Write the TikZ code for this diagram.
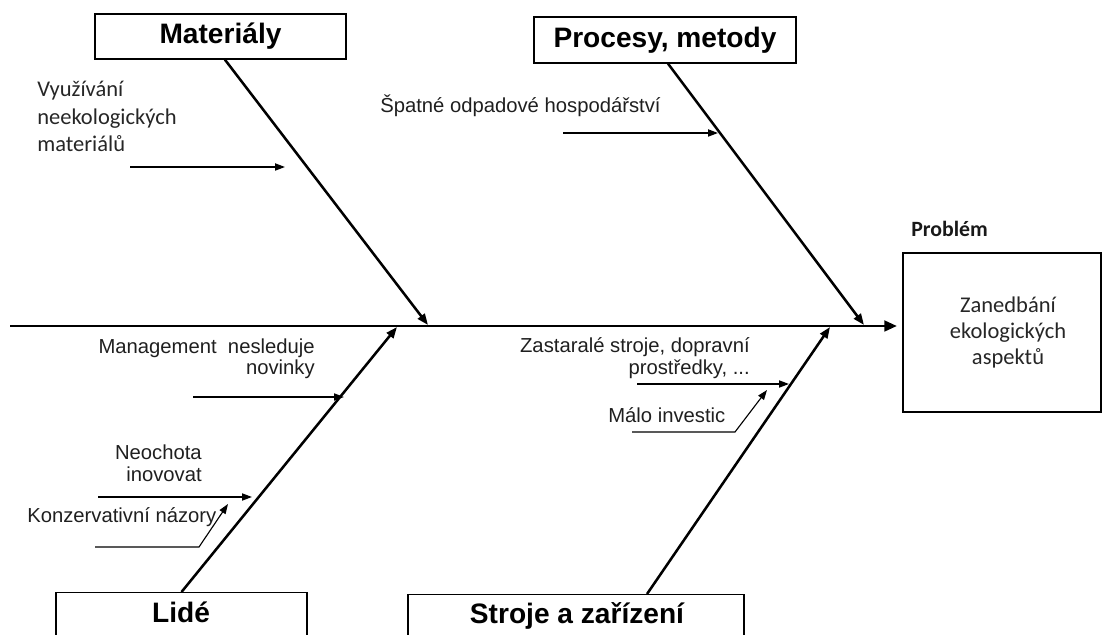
\documentclass[tikz,border=0pt]{standalone}
\usepackage{fontspec}
\setmainfont{Liberation Sans}
\newfontfamily\calibri{Carlito}
\usetikzlibrary{arrows.meta}
\begin{document}
\begin{tikzpicture}[x=0.025cm,y=-0.025cm,
  box/.style={draw, line width=0.9pt, inner sep=0pt},
  cat/.style={font=\fontsize{20}{24}\selectfont\bfseries, inner sep=0pt},
  cause/.style={font=\fontsize{14.4}{15.6}\selectfont, inner sep=0pt, text=black!88},
  note/.style={font=\calibri\fontsize{16}{19.6}\selectfont, inner sep=0pt, text=black!85},
  spine/.style={line width=2.1pt, -{Triangle[length=9pt,width=7.5pt]}},
  bone/.style={line width=1.8pt, -{Triangle[length=8pt,width=6pt]}},
  twig/.style={line width=1.1pt, -{Triangle[length=7pt,width=5pt]}},
  bent/.style={line width=0.8pt, -{Triangle[length=7pt,width=5pt]}},
]
\useasboundingbox (0,0) rectangle (1104,635);
\clip (0,0) rectangle (1104,635);

% category boxes
\node (mat)  [box, cat, minimum width=6.275cm, minimum height=1.125cm] at (220.5,36.5) {Materiály};
\node (proc) [box, cat, minimum width=6.55cm,  minimum height=1.15cm]  at (665,40) {Procesy, metody};
\node (lidebox) [box, minimum width=6.275cm, minimum height=1.7cm, anchor=north] at (181.5,592) {};
\node (lide) [cat, anchor=base] at (181,622) {Lidé};
\node (strbox) [box, minimum width=8.4cm, minimum height=1.7cm, anchor=north] at (576,594) {};
\node (str) [cat, anchor=base] at (577,623) {Stroje a zařízení};

% problem (effect)
\node (prob) [box, note, font=\calibri\fontsize{16}{18.5}\selectfont, align=center,
  minimum width=4.95cm, minimum height=3.975cm] at (1002,332.5)
  {\hspace*{0.3cm}Zanedbání\\\hspace*{0.3cm}ekologických\\\hspace*{0.3cm}aspektů};
\node (problab) [note, font=\calibri\bfseries\fontsize{15.5}{18}\selectfont, text=black!90, anchor=base west] at (911,237) {Problém};

% spine
\coordinate (tail) at (10,326);
\coordinate (head) at (897,326);
\draw[spine] (tail) -- (head);

% main bones
\coordinate (matj)  at (428,325);
\coordinate (procj) at (864,325);
\coordinate (lidej) at (397,327);
\coordinate (strj)  at (830,327);
\draw[bone] ([xshift=0.11cm]mat.south) -- (matj);
\draw[bone] ([xshift=0.075cm]proc.south) -- (procj);
\draw[bone] (lidebox.north) -- (lidej);
\draw[bone] ([xshift=1.775cm]strbox.north) -- (strj);

% cause texts (base anchor = baseline of the last line)
\node (t1) [note, align=left, anchor=base west] at (37,152) {Využívání\\neekologických\\materiálů};
\node (t2) [cause, anchor=base west] at (380,113) {Špatné odpadové hospodářství};
\node (t3) [cause, align=right, anchor=base east] at (315,375) {Management\ \ nesleduje\\novinky};
\node (t4) [cause, align=right, anchor=base east] at (202,481) {Neochota\\inovovat};
\node (t5) [cause, anchor=base west] at (27,522) {Konzervativní názory};
\node (t6) [cause, align=right, anchor=base east] at (750,374) {Zastaralé stroje, dopravní\\prostředky, ...};
\node (t7) [cause, anchor=base west] at (608,423) {Málo investic};

% cause arrows
\coordinate (a1s) at (130,167); \coordinate (a1e) at (285,167);
\coordinate (a2s) at (563,133); \coordinate (a2e) at (718,133);
\coordinate (a3s) at (193,397); \coordinate (a3e) at (344,397);
\coordinate (a4s) at (98,497);  \coordinate (a4e) at (252,497);
\coordinate (a5s) at (95,547);  \coordinate (a5k) at (199,547); \coordinate (a5e) at (228,504);
\coordinate (a6s) at (637,384); \coordinate (a6e) at (789,384);
\coordinate (a7s) at (632,432); \coordinate (a7k) at (735,432); \coordinate (a7e) at (767,390);
\draw[twig] (a1s) -- (a1e);
\draw[twig] (a2s) -- (a2e);
\draw[twig] (a3s) -- (a3e);
\draw[twig] (a4s) -- (a4e);
\draw[bent] (a5s) -- (a5k) -- (a5e);
\draw[twig] (a6s) -- (a6e);
\draw[bent] (a7s) -- (a7k) -- (a7e);
\end{tikzpicture}
\end{document}
